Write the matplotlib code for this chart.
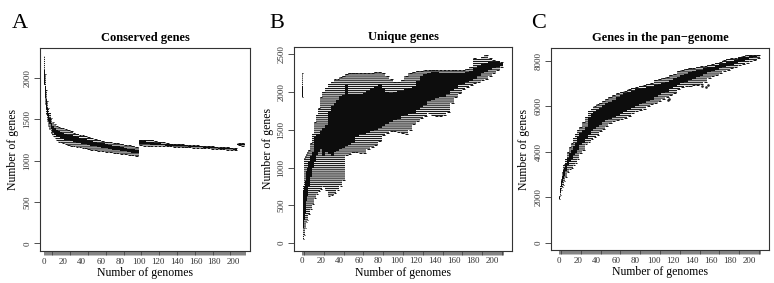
import numpy as np
import matplotlib
matplotlib.use('Agg')
import matplotlib.pyplot as plt

plt.rcParams['font.family'] = ['Liberation Serif', 'DejaVu Serif']
plt.rcParams['hatch.linewidth'] = 0.85

# genome counts at which the box statistics were read
genomes = [1, 2, 3, 4, 5, 6, 8, 10, 12, 14, 16, 18, 20, 23, 26, 29, 32, 35, 38, 41,
           44, 47, 50, 54, 58, 62, 66, 70, 74, 78, 82, 86, 90, 94, 98, 102, 106, 110,
           114, 118, 122, 126, 130, 134, 138, 142, 146, 150, 154, 158, 162, 166, 170,
           174, 178, 182, 186, 190, 194, 198, 202, 206, 210]

# Panel A: conserved genes
cons_whi = [2270, 2050, 1850, 1720, 1640, 1580, 1510, 1470, 1440, 1420, 1410, 1400, 1390, 1380, 1370, 1355, 1340, 1325, 1315, 1305,
            1300, 1285, 1270, 1260, 1250, 1240, 1230, 1220, 1215, 1210, 1200, 1195, 1185, 1175, 1170, 1255, 1255, 1250,
            1248, 1235, 1228, 1220, 1212, 1206, 1202, 1199, 1196, 1193, 1190, 1187, 1184, 1181, 1178,
            1175, 1172, 1169, 1166, 1163, 1160, 1157, 1154, 1210, 1208]
cons_q3 = [2090, 1900, 1740, 1640, 1575, 1520, 1460, 1420, 1390, 1370, 1355, 1345, 1335, 1325, 1315, 1305, 1295, 1285, 1275, 1265,
           1258, 1248, 1238, 1228, 1218, 1208, 1198, 1188, 1182, 1176, 1166, 1156, 1146, 1136, 1130, 1235, 1232, 1229,
           1226, 1218, 1212, 1205, 1200, 1196, 1193, 1190, 1187, 1184, 1181, 1178, 1176, 1173, 1170,
           1167, 1164, 1161, 1158, 1155, 1152, 1149, 1146, 1202, 1200]
cons_q1 = [1930, 1760, 1620, 1540, 1480, 1440, 1385, 1345, 1315, 1295, 1285, 1275, 1265, 1255, 1245, 1235, 1225, 1218, 1210, 1205,
           1200, 1190, 1180, 1172, 1165, 1157, 1148, 1140, 1134, 1128, 1120, 1112, 1104, 1096, 1092, 1203, 1200, 1197,
           1195, 1192, 1189, 1186, 1183, 1180, 1178, 1176, 1174, 1172, 1170, 1167, 1165, 1162, 1159,
           1156, 1153, 1150, 1147, 1144, 1141, 1138, 1135, 1190, 1188]
cons_wlo = [1920, 1680, 1560, 1480, 1420, 1380, 1330, 1300, 1270, 1245, 1230, 1220, 1210, 1200, 1190, 1180, 1172, 1165, 1160, 1155,
            1150, 1142, 1135, 1128, 1122, 1116, 1108, 1100, 1094, 1088, 1082, 1076, 1070, 1066, 1062, 1185, 1183, 1181,
            1179, 1180, 1178, 1176, 1174, 1172, 1170, 1168, 1166, 1164, 1162, 1159, 1157, 1154, 1151,
            1148, 1145, 1142, 1139, 1136, 1133, 1130, 1127, 1184, 1182]

# Panel B: unique genes
uniq_whi = [2260, 750, 1130, 1150, 1180, 1200, 1230, 1320, 1450, 1600, 1700, 1790, 1930, 2000, 2060, 2110, 2140, 2170, 2180, 2200,
            2210, 2240, 2250, 2260, 2250, 2250, 2250, 2250, 2260, 2270, 2270, 2250, 2210, 2180, 2140, 2140, 2160, 2210,
            2250, 2270, 2280, 2285, 2290, 2300, 2300, 2300, 2300, 2300, 2300, 2295, 2290, 2290, 2295,
            2310, 2330, 2450, 2440, 2460, 2490, 2450, 2420, 2410, 2400]
uniq_q3 = [2080, 700, 740, 820, 950, 1000, 1080, 1150, 1200, 1400, 1450, 1450, 1480, 1520, 1560, 1750, 1820, 1860, 1900, 1950,
           1960, 2100, 1980, 1970, 1980, 1980, 1990, 2020, 2050, 2080, 2110, 2060, 2000, 1990, 2000, 2010, 2020, 2040,
           2060, 2080, 2150, 2220, 2240, 2260, 2265, 2265, 2260, 2255, 2255, 2255, 2255, 2255, 2258,
           2262, 2280, 2320, 2350, 2380, 2390, 2395, 2400, 2395, 2390]
uniq_q1 = [1930, 200, 300, 400, 550, 620, 760, 880, 1000, 1080, 1170, 1200, 1250, 1150, 1200, 1180, 1150, 1200, 1220, 1240,
           1260, 1280, 1300, 1330, 1400, 1440, 1450, 1460, 1480, 1500, 1520, 1550, 1580, 1600, 1630, 1650, 1680, 1700,
           1710, 1730, 1760, 1800, 1830, 1880, 1900, 1920, 1930, 1940, 1970, 2020, 2060, 2090, 2110,
           2130, 2150, 2180, 2210, 2250, 2270, 2290, 2320, 2340, 2350]
uniq_wlo = [1930, 50, 100, 200, 280, 300, 380, 450, 520, 600, 650, 690, 720, 750, 700, 620, 640, 660, 700, 750,
            830, 1170, 1180, 1200, 1200, 1190, 1190, 1250, 1270, 1300, 1350, 1430, 1460, 1480, 1480, 1470, 1460, 1450,
            1500, 1580, 1620, 1660, 1690, 1720, 1700, 1680, 1680, 1700, 1740, 1850, 1930, 1990, 2040,
            2070, 2100, 2120, 2140, 2160, 2180, 2220, 2260, 2300, 2330]

# Panel C: genes in the pan-genome
pan_whi = [2060, 2500, 2800, 3100, 3400, 3450, 3700, 4000, 4200, 4400, 4600, 4800, 4950, 5100, 5300, 5550, 5800, 5900, 6000, 6100,
           6150, 6250, 6350, 6400, 6500, 6600, 6650, 6700, 6750, 6800, 6850, 6900, 6950, 7000, 7050, 7150, 7200, 7250,
           7320, 7380, 7450, 7550, 7600, 7650, 7680, 7700, 7750, 7780, 7800, 7850, 7880, 7920, 7980,
           8030, 8080, 8120, 8160, 8200, 8240, 8260, 8270, 8270, 8270]
pan_q3 = [2000, 2400, 2700, 2950, 3200, 3300, 3500, 3750, 3950, 4100, 4250, 4400, 4650, 4850, 4950, 5100, 5550, 5650, 5750, 5850,
          5950, 6050, 6150, 6200, 6300, 6400, 6500, 6600, 6650, 6700, 6750, 6780, 6800, 6850, 6880, 6950, 7000, 7050,
          7100, 7150, 7250, 7300, 7380, 7450, 7500, 7550, 7600, 7630, 7680, 7720, 7760, 7810, 7860,
          7920, 7970, 8020, 8070, 8120, 8170, 8200, 8220, 8240, 8250]
pan_q1 = [1930, 2200, 2450, 2650, 2800, 2950, 3150, 3400, 3550, 3700, 3850, 3950, 4100, 4300, 4400, 4550, 4750, 4900, 5000, 5100,
          5200, 5300, 5400, 5450, 5550, 5600, 5700, 5750, 5850, 5950, 6000, 6100, 6150, 6250, 6300, 6400, 6500, 6600,
          6650, 6750, 6850, 6950, 7030, 7100, 7150, 7200, 7280, 7350, 7420, 7500, 7560, 7620, 7680,
          7730, 7790, 7840, 7900, 7960, 8020, 8070, 8120, 8180, 8210]
pan_wlo = [1900, 2100, 2300, 2450, 2550, 2700, 2900, 3100, 3250, 3300, 3400, 3500, 3700, 3950, 4100, 4350, 4450, 4550, 4650, 4750,
           4900, 5000, 5150, 5250, 5350, 5400, 5450, 5500, 5600, 5700, 5800, 5850, 5900, 6000, 6100, 6150, 6250, 6350,
           6400, 6500, 6600, 6750, 6850, 6900, 6920, 6930, 6950, 7000, 7100, 7250, 7350, 7400, 7480,
           7560, 7620, 7680, 7750, 7820, 7880, 7930, 7990, 8050, 8120]
pan_out_g = [115, 116, 151, 155, 157]
pan_out_v = [6280, 6350, 6900, 6850, 6950]

titles = ['Conserved genes', 'Unique genes', 'Genes in the pan\u2212genome']
letters = ['A', 'B', 'C']
yticks = [[0, 500, 1000, 1500, 2000], [0, 500, 1000, 1500, 2000, 2500], [0, 2000, 4000, 6000, 8000]]
ylims = [(-91, 2361), (-100, 2595), (-330, 8580)]
xlims = [(-4.2, 217.6), (-8, 221), (-8, 221)]
rects = [[40, 251, 250, 48], [294, 250.5, 512, 47.3], [551, 250, 769, 48]]
letter_x = [12, 269, 531]

W, H = 774, 283
fig = plt.figure(figsize=(W / 100, H / 100), dpi=100)


def box_edges(pos):
    pos = np.asarray(pos, float)
    mid = (pos[:-1] + pos[1:]) / 2
    left = np.concatenate([[pos[0] - 0.5], mid])
    right = np.concatenate([mid, [pos[-1] + (pos[-1] - pos[-2]) / 2]])
    return left, right - left


def draw_panel(ax, wlo, q1, q3, whi):
    left, width = box_edges(genomes)
    wlo, q1, q3, whi = map(np.asarray, (wlo, q1, q3, whi))
    ax.bar(left, whi - wlo, width=width, bottom=wlo, align='edge', facecolor='white',
           edgecolor='#1a1a1a', linewidth=0, hatch='-' * 8, zorder=2)
    ax.hlines(whi, left + 0.1 * width, left + 0.9 * width, color='#111111', lw=0.7, zorder=3)
    ax.hlines(wlo, left + 0.1 * width, left + 0.9 * width, color='#111111', lw=0.7, zorder=3)
    ax.bar(left, q3 - q1, width=width, bottom=q1, align='edge', color='#0d0d0d',
           linewidth=0, zorder=4)


data = [(cons_wlo, cons_q1, cons_q3, cons_whi),
        (uniq_wlo, uniq_q1, uniq_q3, uniq_whi),
        (pan_wlo, pan_q1, pan_q3, pan_whi)]

for i in range(3):
    l, b, r, t = rects[i]
    ax = fig.add_axes([l / W, 1 - b / H, (r - l) / W, (b - t) / H])
    draw_panel(ax, *data[i])
    if i == 2:
        ax.plot(pan_out_g, pan_out_v, ls='none', marker='s', ms=0.8, color='#222222', zorder=3)
    ax.set_xlim(*xlims[i])
    ax.set_ylim(*ylims[i])
    ax.set_xticks(np.arange(0, 201, 20))
    ax.set_xticks(np.arange(1, 213), minor=True)
    ax.set_yticks(yticks[i])
    ax.set_yticklabels([str(v) for v in yticks[i]], rotation=90, va='center')
    ax.tick_params(axis='x', which='both', length=3, width=0.4, labelsize=6.5, pad=2,
                   color='#222222', labelcolor='#333333')
    ax.tick_params(axis='y', length=4, width=0.6, labelsize=6.5, pad=2,
                   color='#333333', labelcolor='#333333')
    for sp in ax.spines.values():
        sp.set_linewidth(0.8)
        sp.set_color('#333333')
    ax.set_title(titles[i], fontsize=9, fontweight='bold', pad=5)
    ax.set_xlabel('Number of genomes', fontsize=8.5, labelpad=1)
    ax.set_ylabel('Number of genes', fontsize=8.5, labelpad=3)
    fig.text(letter_x[i] / W, 1 - 28 / H, letters[i], fontsize=16, ha='left', va='baseline')

fig.savefig('out.png', dpi=100)
